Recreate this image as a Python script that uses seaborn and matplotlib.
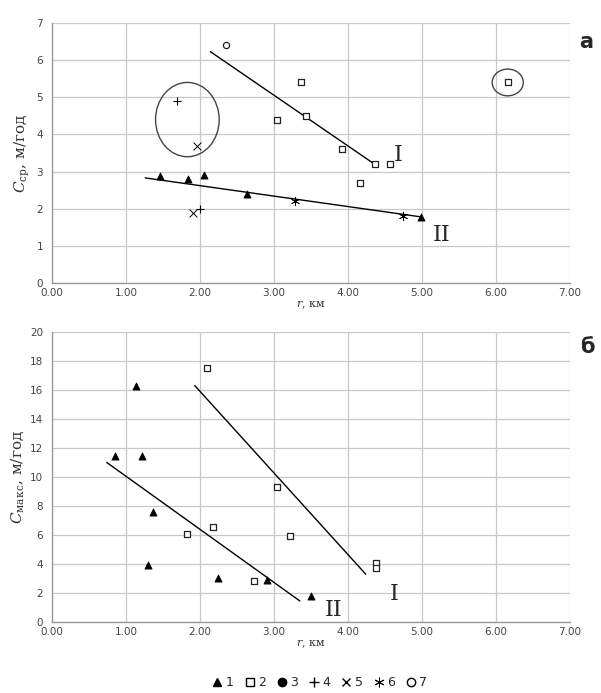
import seaborn as sns
import matplotlib.pyplot as plt
from matplotlib.lines import Line2D
from matplotlib.patches import Ellipse

# ---- panel а: C_ср vs r ----
a_tri_r = [1.46, 1.84, 2.05, 2.63, 4.99]
a_tri_c = [2.88, 2.80, 2.90, 2.40, 1.78]
a_sq_r = [3.04, 3.37, 3.43, 3.92, 4.16, 4.36, 4.57, 6.16]
a_sq_c = [4.40, 5.40, 4.50, 3.60, 2.70, 3.20, 3.20, 5.40]
a_plus_r = [1.69, 2.00]
a_plus_c = [4.90, 2.00]
a_x_r = [1.96, 1.90]
a_x_c = [3.70, 1.88]
a_ast_r = [3.28, 4.74]
a_ast_c = [2.20, 1.80]
a_circ_r = [2.35]
a_circ_c = [6.40]
a_line1_r = [2.14, 4.36]
a_line1_c = [6.23, 3.20]
a_line2_r = [1.26, 4.99]
a_line2_c = [2.83, 1.78]

# ---- panel б: C_макс vs r ----
b_tri_r = [0.85, 1.14, 1.21, 1.37, 1.30, 2.24, 2.90, 3.50]
b_tri_c = [11.45, 16.3, 11.45, 7.6, 3.9, 3.0, 2.9, 1.8]
b_sq_r = [1.82, 2.09, 2.18, 2.73, 3.04, 3.22, 4.38, 4.38]
b_sq_c = [6.1, 17.5, 6.55, 2.8, 9.3, 5.9, 4.05, 3.7]
b_line1_r = [1.93, 4.24]
b_line1_c = [16.3, 3.3]
b_line2_r = [0.74, 3.35]
b_line2_c = [11.0, 1.45]

legend_labels = ["1", "2", "3", "4", "5", "6", "7"]

sns.set_style("white")
plt.rcParams["mathtext.fontset"] = "dejavuserif"
plt.rcParams["font.family"] = ["DejaVu Sans"]

GRID = "#c8c8c8"
TICK = "#444444"
ASTER = (6, 2, 0)


def style_axes(ax, ymax, ystep, ylabel):
    ax.set_xlim(0, 7)
    ax.set_ylim(0, ymax)
    ax.set_xticks(range(0, 8))
    ax.set_xticklabels([f"{v:.2f}" for v in range(0, 8)])
    ax.set_yticks(range(0, ymax + 1, ystep))
    ax.grid(True, color=GRID, linewidth=0.9)
    ax.set_axisbelow(True)
    for s in ["top", "right"]:
        ax.spines[s].set_visible(False)
    for s in ["left", "bottom"]:
        ax.spines[s].set_color("#999999")
        ax.spines[s].set_linewidth(1.0)
    ax.tick_params(axis="both", labelsize=7.5, colors=TICK, length=3, width=0.8)
    ax.tick_params(axis="x", length=0)
    ax.set_xlabel("$r$, км", fontsize=8, family="DejaVu Serif", color="#333333", labelpad=1)
    ax.set_ylabel(ylabel, fontsize=11, family="DejaVu Serif", color="#333333", labelpad=3)


def scat(ax, x, y, marker, filled=True, size=28):
    if filled:
        sns.scatterplot(x=x, y=y, ax=ax, marker=marker, color="black", s=size,
                        linewidth=0.6, edgecolor="black", zorder=3)
    else:
        sns.scatterplot(x=x, y=y, ax=ax, marker=marker, s=size,
                        facecolor="white", edgecolor="#222222", linewidth=0.9, zorder=3)


def trend(ax, x, y):
    sns.lineplot(x=x, y=y, ax=ax, color="black", linewidth=1.0, zorder=2)


fig = plt.figure(figsize=(6.01, 6.93), dpi=100)
ax1 = fig.add_axes([0.0865, 0.5916, 0.8617, 0.3752])
ax2 = fig.add_axes([0.0865, 0.1025, 0.8617, 0.4185])

# panel а
trend(ax1, a_line1_r, a_line1_c)
trend(ax1, a_line2_r, a_line2_c)
scat(ax1, a_tri_r, a_tri_c, "^", size=26)
scat(ax1, a_sq_r, a_sq_c, "s", filled=False, size=17)
sns.scatterplot(x=a_plus_r, y=a_plus_c, ax=ax1, marker="+", color="black", s=36, linewidth=0.8, zorder=3)
sns.scatterplot(x=a_x_r, y=a_x_c, ax=ax1, marker="x", color="black", s=32, linewidth=0.7, zorder=3)
sns.scatterplot(x=a_ast_r, y=a_ast_c, ax=ax1, marker=ASTER, color="black", s=36, linewidth=0.6, zorder=3)
scat(ax1, a_circ_r, a_circ_c, "o", filled=False, size=20)
ax1.add_patch(Ellipse((1.83, 4.40), 0.86, 2.0, fill=False, edgecolor="#444444", linewidth=1.0))
ax1.add_patch(Ellipse((6.16, 5.40), 0.42, 0.72, fill=False, edgecolor="#444444", linewidth=1.0))
ax1.text(4.68, 3.45, "I", fontsize=16, family="DejaVu Serif", ha="center", va="center")
ax1.text(5.27, 1.28, "II", fontsize=16, family="DejaVu Serif", ha="center", va="center")
style_axes(ax1, 7, 1, "$C_{\\mathrm{ср}}$, м/год")
fig.text(0.975, 0.94, "а", fontsize=15, fontweight="bold", ha="center", va="center")

# panel б
trend(ax2, b_line1_r, b_line1_c)
trend(ax2, b_line2_r, b_line2_c)
scat(ax2, b_tri_r, b_tri_c, "^", size=26)
scat(ax2, b_sq_r, b_sq_c, "s", filled=False, size=17)
ax2.text(4.62, 1.9, "I", fontsize=16, family="DejaVu Serif", ha="center", va="center")
ax2.text(3.81, 0.85, "II", fontsize=16, family="DejaVu Serif", ha="center", va="center")
style_axes(ax2, 20, 2, "$C_{\\mathrm{макс}}$, м/год")
fig.text(0.978, 0.499, "б", fontsize=15, fontweight="bold", ha="center", va="center")

# legend
handles = [
    Line2D([], [], marker="^", color="black", linestyle="none", markersize=6),
    Line2D([], [], marker="s", markerfacecolor="white", markeredgecolor="black", linestyle="none", markersize=6),
    Line2D([], [], marker="o", color="black", linestyle="none", markersize=6),
    Line2D([], [], marker="+", color="black", linestyle="none", markersize=7),
    Line2D([], [], marker="x", color="black", linestyle="none", markersize=6),
    Line2D([], [], marker=ASTER, color="black", linestyle="none", markersize=7, markeredgewidth=0.7),
    Line2D([], [], marker="o", markerfacecolor="white", markeredgecolor="black", linestyle="none", markersize=6),
]
fig.legend(handles, legend_labels, loc="center", bbox_to_anchor=(0.53, 0.015), ncol=7,
           frameon=False, fontsize=9, handletextpad=0.05, columnspacing=0.7, handlelength=1.2)

fig.savefig("out.png", dpi=100)
